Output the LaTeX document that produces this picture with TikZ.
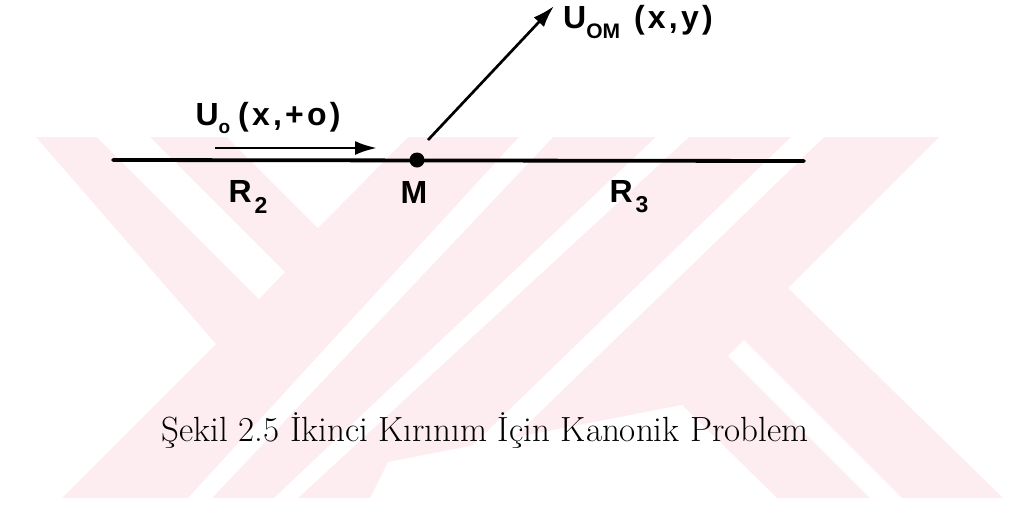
\documentclass[tikz,border=0pt]{standalone}
\usepackage{fontspec}
\newfontfamily\labfont{Liberation Sans}
\usetikzlibrary{arrows.meta}
\definecolor{wm}{RGB}{253,236,240}
\newcommand{\gapsp}{\hspace{1.6pt}}
\begin{document}
\begin{tikzpicture}[x=0.5pt,y=-0.5pt,
  lbl/.style={font=\labfont\bfseries\fontsize{16}{16}\selectfont, inner sep=0pt},
  captionstyle/.style={font=\fontsize{17.5}{20}\selectfont, inner sep=0pt, anchor=base},
  wmpink/.style={fill=wm, draw=none},
  wmcut/.style={fill=white, draw=none},
  axisline/.style={line width=1.9pt, line cap=round},
  arr/.style={line width=1.35pt, -{Latex[length=11pt,width=7pt]}},
  dotnode/.style={circle, fill=black, inner sep=0pt, minimum size=7.5pt}]
\useasboundingbox (0,0) rectangle (1009,505);
% watermark
\fill[wmpink] (36,137) -- (939,137) -- (788,288) -- (1003,498) -- (62,498) -- (216,344) -- cycle;
\fill[wmcut] (97,137) -- (150,137) -- (285,272) -- (259,299) -- cycle;
\fill[wmcut] (227,137) -- (408,137) -- (318,228) -- cycle;
\fill[wmcut] (519,137) -- (553,137) -- (212,498) -- (188,498) -- cycle;
\fill[wmcut] (656,137) -- (689,137) -- (298,498) -- (274,498) -- cycle;
\fill[wmcut] (791,137) -- (824,137) -- (480,470) -- (447,470) -- cycle;
\fill[wmcut] (388,462) -- (682,405) -- (777,498) -- (370,498) -- cycle;
\fill[wmcut] (728,356) -- (744,340) -- (902,498) -- (870,498) -- cycle;
% diagram
\coordinate (L) at (113,160);
\coordinate (R) at (804,161);
\draw[axisline] (L) -- (R);
\node[dotnode] (M) at (417,160) {};
\coordinate (a1) at (215,148);
\coordinate (a2) at (377,148);
\draw[arr] (a1) -- (a2);
\coordinate (b1) at (428,140);
\coordinate (b2) at (554,6);
\draw[arr] (b1) -- (b2);
\node[lbl] (uo) at (268,118) {U\raisebox{-0.5ex}{\fontsize{9.5}{9.5}\selectfont o}\hspace{4pt}(\gapsp x\gapsp,\gapsp+\gapsp o\gapsp)};
\node[lbl] (uom) at (638,22) {U\raisebox{-0.55ex}{\fontsize{10.5}{10.5}\selectfont OM}\hspace{7pt}(\gapsp x\gapsp,\gapsp y\gapsp)};
\node[lbl] (r2) at (248,197) {R\hspace{1.5pt}\raisebox{-0.6ex}{\fontsize{11.5}{11.5}\selectfont 2}};
\node[lbl] (mlab) at (414,192) {M};
\node[lbl] (r3) at (629,197) {R\hspace{1.5pt}\raisebox{-0.6ex}{\fontsize{11.5}{11.5}\selectfont 3}};
\node[captionstyle] (cap) at (485,441) {Şekil 2.5 İkinci Kırınım İçin Kanonik Problem};
\end{tikzpicture}
\end{document}
